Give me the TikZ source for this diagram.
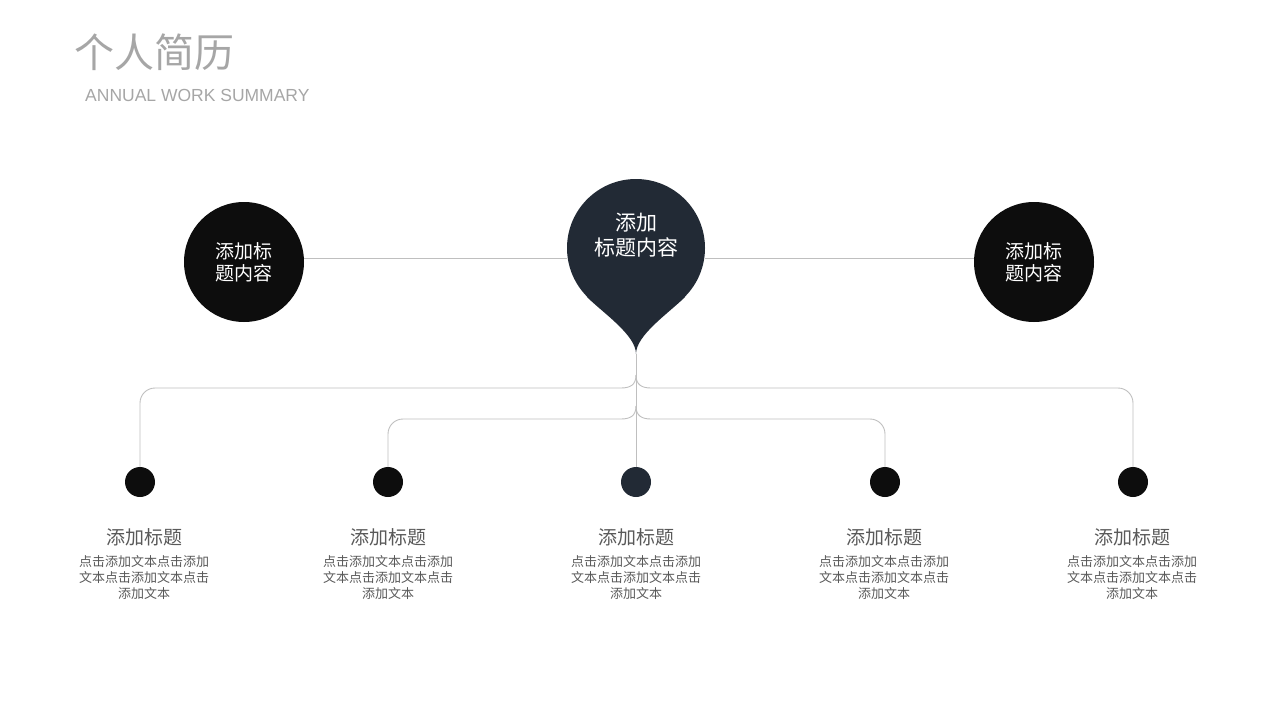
\documentclass[tikz,border=0pt]{standalone}
\usepackage{fontspec}
\setmainfont{Noto Sans CJK SC}
\setsansfont{Liberation Sans}
\usepackage{tikz}
\usetikzlibrary{positioning}
\definecolor{inkc}{HTML}{0D0D0D}
\definecolor{pinc}{HTML}{222A35}
\definecolor{linec}{HTML}{BFBFBF}
\definecolor{titlec}{HTML}{A6A6A6}
\definecolor{textc}{HTML}{595959}

\begin{document}
\begin{tikzpicture}[x=1pt,y=-1pt,
  link/.style={draw=linec, line width=0.9pt},
  bigdot/.style={circle, fill=inkc, minimum size=120pt, inner sep=0pt, text=white, align=center,
    font=\fontsize{19}{22}\selectfont},
  smalldot/.style={circle, fill=inkc, minimum size=30pt, inner sep=0pt},
  head/.style={text=textc, font=\fontsize{19}{22}\selectfont},
  body/.style={text=textc, align=center, font=\fontsize{13}{16}\selectfont}]
\useasboundingbox (0,0) rectangle (1280,720);
\node[anchor=west, text=titlec, font=\fontsize{40}{44}\selectfont, inner sep=0pt] (title) at (74,52) {个人简历};
\node[anchor=west, text=titlec, font=\sffamily\fontsize{17.5}{20}\selectfont, inner sep=0pt] (sub) at (85,95) {ANNUAL WORK SUMMARY};
\coordinate (tip) at (636,354);
\coordinate (b1) at (636,375);
\coordinate (b2) at (636,406);
\coordinate (k1) at (140,388);
\coordinate (k5) at (1133,388);
\coordinate (k2) at (388,419);
\coordinate (k4) at (885,419);
\node[smalldot] (d1) at (140,482) {};
\node[smalldot] (d2) at (388,482) {};
\node[smalldot, fill=pinc] (d3) at (636,482) {};
\node[smalldot] (d4) at (885,482) {};
\node[smalldot] (d5) at (1133,482) {};
\node[bigdot] (lt) at (244,262) {添加标\\题内容};
\node[bigdot] (rt) at (1034,262) {添加标\\题内容};
\node[circle, fill=pinc, minimum size=138pt, inner sep=0pt] (pin) at (636,248) {};
\fill[pinc] (tip) .. controls (636,335) and (603,313) .. (587,297) -- (pin.center) -- (685,297)
  .. controls (669,313) and (636,335) .. (tip) -- cycle;
\node[text=white, align=center, font=\fontsize{21}{25}\selectfont] (ptext) at (636,235) {添加\\标题内容};
\draw[link] ([yshift=4pt]lt.east) -- ([yshift=-10pt]pin.west);
\draw[link] ([yshift=-10pt]pin.east) -- ([yshift=4pt]rt.west);
\draw[link] (tip) -- (d3);
\draw[link] (b1) .. controls (636,385) and (630,388) .. (621,388) [rounded corners=15pt] -- (k1) -- (d1);
\draw[link] (b1) .. controls (636,385) and (642,388) .. (651,388) [rounded corners=15pt] -- (k5) -- (d5);
\draw[link] (b2) .. controls (636,416) and (630,419) .. (621,419) [rounded corners=15pt] -- (k2) -- (d2);
\draw[link] (b2) .. controls (636,416) and (642,419) .. (651,419) [rounded corners=15pt] -- (k4) -- (d4);
\node[head] (h1) at (144,537) {添加标题};
\node[head] (h2) at (388,537) {添加标题};
\node[head] (h3) at (636,537) {添加标题};
\node[head] (h4) at (884,537) {添加标题};
\node[head] (h5) at (1132,537) {添加标题};
\node[body] (t1) at (144,578) {点击添加文本点击添加\\文本点击添加文本点击\\添加文本};
\node[body] (t2) at (388,578) {点击添加文本点击添加\\文本点击添加文本点击\\添加文本};
\node[body] (t3) at (636,578) {点击添加文本点击添加\\文本点击添加文本点击\\添加文本};
\node[body] (t4) at (884,578) {点击添加文本点击添加\\文本点击添加文本点击\\添加文本};
\node[body] (t5) at (1132,578) {点击添加文本点击添加\\文本点击添加文本点击\\添加文本};
\end{tikzpicture}
\end{document}
